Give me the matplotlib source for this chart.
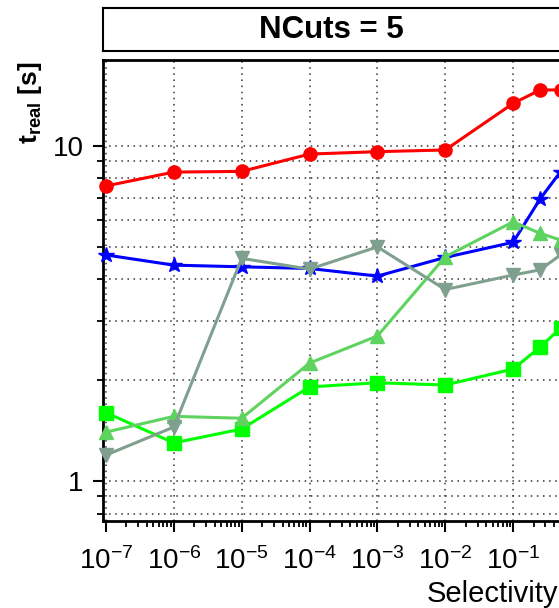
import math
import matplotlib
matplotlib.use("Agg")
import matplotlib.pyplot as plt
from matplotlib.ticker import LogLocator, NullFormatter, FuncFormatter, FixedLocator

plt.rcParams['font.family'] = ['Liberation Sans', 'DejaVu Sans']
plt.rcParams['mathtext.fontset'] = 'custom'
plt.rcParams['mathtext.rm'] = 'Liberation Sans'
plt.rcParams['mathtext.bf'] = 'Liberation Sans:bold'
plt.rcParams['mathtext.default'] = 'regular'

selectivity = [1e-7, 1e-6, 1e-5, 1e-4, 1e-3, 1e-2, 1e-1, 0.25, 0.5]
x_decades = [1e-7, 1e-6, 1e-5, 1e-4, 1e-3, 1e-2, 1e-1]

red_circle = [7.6, 8.36, 8.4, 9.46, 9.62, 9.73, 13.4, 14.7, 14.7]
blue_star = [4.73, 4.41, 4.36, 4.31, 4.09, 4.65, 5.16, 6.95, 8.38]
green_square = [1.60, 1.30, 1.43, 1.91, 1.965, 1.935, 2.16, 2.51, 2.86]
lightgreen_up = [1.40, 1.56, 1.54, 2.25, 2.71, 4.67, 5.94, 5.49, 5.24]
gray_down = [1.196, 1.45, 4.62, 4.29, 5.0, 3.73, 4.12, 4.27, 4.73]

W, H = 559, 608
fig = plt.figure(figsize=(W / 100, H / 100), dpi=100)

ax = fig.add_axes([103 / W, (H - 521) / H, (560.5 - 103) / W, (521 - 60) / H])
ax.set_xscale('log')
ax.set_yscale('log')

lw = 2.2
ms = 9.5
ax.plot(selectivity, red_circle, color='#ff0000', marker='o', lw=lw, ms=ms, clip_on=False, zorder=3)
ax.plot(selectivity, blue_star, color='#0000ff', marker='*', lw=lw, ms=ms + 2, clip_on=False, zorder=3)
ax.plot(selectivity, green_square, color='#00ff00', marker='s', lw=lw, ms=ms, clip_on=False, zorder=3)
ax.plot(selectivity, lightgreen_up, color='#5fd35f', marker='^', lw=lw, ms=ms, clip_on=False, zorder=3)
ax.plot(selectivity, gray_down, color='#80a08f', marker='v', lw=lw, ms=ms, clip_on=False, zorder=3)

ax.set_xlim(9.03e-8, 0.5)
ax.set_ylim(0.76, 18.06)

ax.xaxis.set_major_locator(FixedLocator(x_decades))
ax.xaxis.set_minor_locator(LogLocator(base=10, subs=range(2, 10), numticks=20))
ax.xaxis.set_minor_formatter(NullFormatter())
ax.xaxis.set_major_formatter(FuncFormatter(lambda v, p: r'$\mathregular{10^{%d}}$' % round(math.log10(v))))

ax.yaxis.set_major_locator(FixedLocator([1, 10]))
ax.yaxis.set_minor_locator(LogLocator(base=10, subs=range(2, 10), numticks=10))
ax.yaxis.set_minor_formatter(NullFormatter())
ax.yaxis.set_major_formatter(FuncFormatter(lambda v, p: '%g' % v))

ax.tick_params(which='major', direction='out', length=8, width=1.5, labelsize=20)
ax.tick_params(which='minor', direction='out', length=4.5, width=1.3)
ax.tick_params(axis='x', which='major', pad=11)
ax.tick_params(axis='y', which='major', length=7, pad=7)

ax.grid(True, which='major', axis='x', linestyle=(0, (1, 3)), color='#333333', lw=1.1)
ax.grid(True, which='both', axis='y', linestyle=(0, (1, 3)), color='#333333', lw=1.1)

for s in ['left', 'bottom', 'top']:
    ax.spines[s].set_linewidth(2)
ax.spines['right'].set_visible(False)

# title box
tax = fig.add_axes([103 / W, (H - 51) / H, (570 - 103) / W, 43 / H])
tax.set_xticks([])
tax.set_yticks([])
for s in tax.spines.values():
    s.set_linewidth(1.5)
fig.text((103 + 559) / 2 / W, (H - 29.5) / H, 'NCuts = 5', ha='center', va='center',
         fontsize=22.5, fontweight='bold')

fig.text(30 / W, (H - 103) / H, r'$\mathbf{t_{real}}$ [s]', rotation=90, ha='center', va='center',
         fontsize=19, fontweight='bold')
fig.text(427 / W, (H - 594) / H, 'Selectivity', ha='left', va='center', fontsize=21)

fig.savefig('out.png', dpi=100)
